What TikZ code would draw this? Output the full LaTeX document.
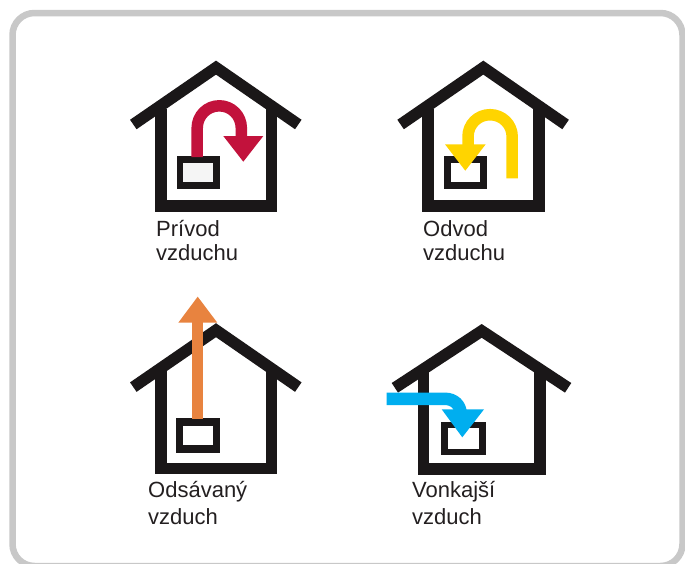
\documentclass[tikz,border=0pt]{standalone}
\usepackage{fontspec}
\setmainfont{Liberation Sans}
\definecolor{framegray}{HTML}{C8C8C8}
\definecolor{ink}{HTML}{231F20}
\definecolor{housecol}{HTML}{1A1718}
\definecolor{redair}{HTML}{C2123C}
\definecolor{yellowair}{HTML}{FFD400}
\definecolor{orangeair}{HTML}{E8833F}
\definecolor{blueair}{HTML}{00AEEF}
\tikzset{
  frameline/.style={draw=framegray,line width=6.5pt,fill=white,rounded corners=22pt},
  housestroke/.style={draw=housecol,line width=11.5pt,miter limit=10},
  windowbox/.style={draw=housecol,line width=6.6pt,fill=white},
  caption/.style={font=\fontsize{22}{23}\selectfont,text=ink,align=left,inner sep=0pt,anchor=north west}
}
\newcommand{\myhouse}[3]{%
  \begin{scope}[shift={(#1,#2)},xscale=#3]
    \draw[housestroke] (-82.7,63.8) -- (0,6.9) -- (82.3,63.8);
    \draw[housestroke] (-55.2,48) -- (-55.2,145.2) -- (55.5,145.2) -- (55.5,48);
  \end{scope}}
\begin{document}
\begin{tikzpicture}[x=1pt,y=-1pt]
\useasboundingbox (0,0) rectangle (685,563);
\path[fill=white] (0,0) rectangle (685,563);
\draw[frameline] (12.5,13) rectangle (682.5,566);

% house 1
\myhouse{216}{60.7}{1}
\draw[windowbox,fill=white!96!black] (180,159.2) rectangle (216.3,185.2);
\draw[draw=redair,line width=11.5pt] (197.2,157) -- (197.2,128)
  .. controls (197.2,115.7) and (207,105.8) .. (219.3,105.8)
  .. controls (231.6,105.8) and (241.3,115.7) .. (241.3,128) -- (241.3,137);
\fill[redair] (223.3,136) -- (263.3,136) -- (243.3,161.7) -- cycle;
\node[caption] (t1) at (156,220) {Prívod\\[1.5pt]vzduchu};

% house 2
\myhouse{483.3}{60.7}{1}
\draw[windowbox] (447.3,159.2) rectangle (483.4,185.2);
\draw[draw=yellowair,line width=11.5pt] (512.2,178.3) -- (512.2,136.7)
  .. controls (512.2,124.4) and (502.3,114.7) .. (490,114.7)
  .. controls (477.7,114.7) and (468,124.4) .. (468,136.7) -- (468,145);
\fill[yellowair] (445,144.3) -- (485.7,144.3) -- (465.3,170.7) -- cycle;
\node[caption] (t2) at (423,220) {Odvod\\[1.5pt]vzduchu};

% house 3
\myhouse{216}{323.3}{1}
\draw[windowbox,line width=7.4pt] (179.7,422) rectangle (216.7,449);
\draw[draw=orangeair,line width=11pt] (197.8,418.5) -- (197.8,322);
\fill[orangeair] (178.3,322.7) -- (217.3,322.7) -- (197.7,296.7) -- cycle;
\node[caption] (t3) at (148,481) {Odsávaný\\[4pt]vzduch};

% house 4
\myhouse{481.7}{324}{1.05}
\draw[windowbox] (444.4,425) rectangle (482.7,452);
\draw[draw=blueair,line width=12.5pt] (386.7,398.8) -- (445,398.8)
  .. controls (454,398.8) and (460.7,405) .. (460.7,414);
\fill[blueair] (441.7,409.3) -- (484,409.3) -- (462.3,437.3) -- cycle;
\node[caption] (t4) at (412,481) {Vonkajší\\[4pt]vzduch};
\end{tikzpicture}
\end{document}
